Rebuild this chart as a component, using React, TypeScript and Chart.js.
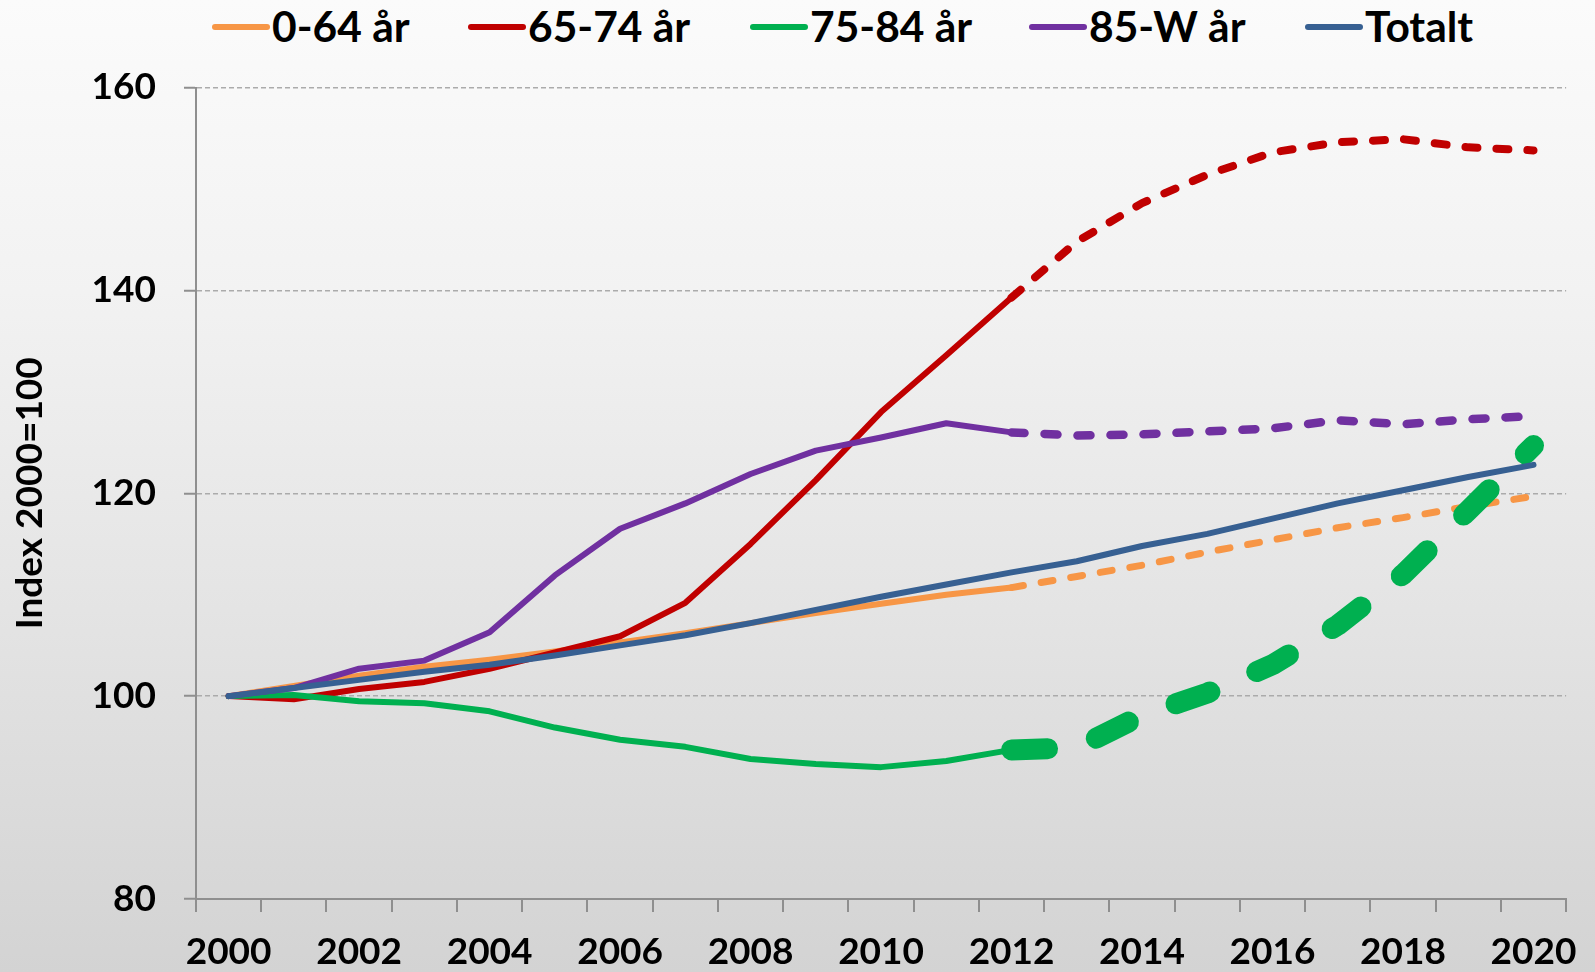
import React, { useEffect, useRef } from "react";
import { Chart, registerables } from "chart.js";

Chart.register(...registerables);

// ---- Data ----
const years = [
  "2000", "2001", "2002", "2003", "2004", "2005", "2006", "2007", "2008", "2009", "2010",
  "2011", "2012", "2013", "2014", "2015", "2016", "2017", "2018", "2019", "2020",
];
const age0to64 = [100, 101.0, 102.0, 102.9, 103.6, 104.4, 105.3, 106.2, 107.2, 108.2, 109.1, 110.0, 110.7, 111.8, 112.9, 114.2, 115.4, 116.6, 117.6, 118.7, 119.7];
const age65to74 = [100, 99.7, 100.7, 101.4, 102.7, 104.3, 105.9, 109.2, 115.0, 121.3, 128.0, 133.6, 139.3, 144.8, 148.6, 151.4, 153.6, 154.6, 154.9, 154.1, 153.8];
const age75to84 = [100, 100.1, 99.5, 99.3, 98.5, 96.9, 95.7, 95.0, 93.8, 93.3, 93.0, 93.6, 94.7, 94.9, 98.1, 100.3, 103.1, 107.0, 112.0, 118.3, 124.7];
const age85plus = [100, 100.8, 102.7, 103.5, 106.3, 111.9, 116.5, 119.0, 121.9, 124.2, 125.5, 126.9, 126.0, 125.7, 125.8, 126.1, 126.4, 127.2, 126.8, 127.3, 127.6];
const totalt = [100, 100.8, 101.6, 102.4, 103.1, 104.0, 105.0, 106.0, 107.2, 108.5, 109.8, 111.0, 112.2, 113.3, 114.8, 116.0, 117.5, 119.0, 120.3, 121.6, 122.8];
const seriesNames = ["0-64 år", "65-74 år", "75-84 år", "85-W år", "Totalt"];
const yTicks = { min: 80, max: 160, step: 20 };
const projectionFromIndex = 12; // 2012 onward is projection (dashed)

const colors = ["#F79646", "#C00000", "#00B050", "#7030A0", "#376092"];
const FONT = 'Lato, "Open Sans", "DejaVu Sans", sans-serif';
const axisGray = "#8f8f8f";
const gridGray = "#ababab";

const legendLeft = [212, 468, 750, 1029, 1305];

function makeDataset(label: string, data: number[], color: string, order: number, dashW: number | null, dash: number[] | null) {
  return {
    label,
    data,
    borderColor: color,
    backgroundColor: color,
    borderWidth: 6,
    borderCapStyle: "round" as const,
    borderJoinStyle: "round" as const,
    pointRadius: 0,
    pointHoverRadius: 0,
    fill: false,
    tension: 0,
    order,
    segment: {
      borderDash: (ctx: any) => (dash && ctx.p0DataIndex >= projectionFromIndex ? dash : undefined),
      borderWidth: (ctx: any) => (dashW && ctx.p0DataIndex >= projectionFromIndex ? dashW : undefined),
    },
  };
}

export default function App() {
  const canvasRef = useRef<HTMLCanvasElement>(null);

  useEffect(() => {
    document.body.style.margin = "0";
    const canvas = canvasRef.current;
    if (!canvas) return;
    const chart = new Chart(canvas, {
      type: "line",
      data: {
        labels: years,
        datasets: [
          makeDataset(seriesNames[0], age0to64, colors[0], 5, 7, [12, 18]),
          makeDataset(seriesNames[1], age65to74, colors[1], 4, 8, [12, 19]),
          makeDataset(seriesNames[2], age75to84, colors[2], 3, 21, [36, 51]),
          makeDataset(seriesNames[3], age85plus, colors[3], 2, 8.5, [13, 20]),
          makeDataset(seriesNames[4], totalt, colors[4], 1, null, null),
        ],
      },
      options: {
        responsive: false,
        animation: false,
        layout: { padding: { top: 87.5, right: 24, left: 0, bottom: 0 } },
        plugins: {
          legend: { display: false },
          tooltip: { enabled: false },
        },
        scales: {
          x: {
            type: "category",
            offset: true,
            grid: {
              offset: true,
              drawOnChartArea: false,
              color: axisGray,
              tickColor: axisGray,
              tickLength: 13,
              tickWidth: 2,
              lineWidth: 2,
            },
            border: { color: axisGray, width: 2 },
            ticks: {
              autoSkip: false,
              maxRotation: 0,
              color: "#000",
              padding: 18,
              font: { family: FONT, size: 37, weight: "bold" },
              callback: (_v: any, i: number) => (i % 2 === 0 ? years[i] : ""),
            },
            afterFit: (scale: any) => {
              scale.height = 73;
            },
          },
          y: {
            min: yTicks.min,
            max: yTicks.max,
            grid: {
              color: gridGray,
              lineWidth: 1.5,
              tickColor: axisGray,
              tickWidth: 2,
              tickLength: 12,
              tickBorderDash: [],
            },
            border: { color: axisGray, width: 2, dash: [5, 3] },
            ticks: {
              stepSize: yTicks.step,
              color: "#000",
              padding: 28,
              font: { family: FONT, size: 37, weight: "bold" },
            },
            title: {
              display: true,
              text: "Index 2000=100",
              color: "#000",
              padding: { top: 8, bottom: 0 },
              font: { family: FONT, size: 37, weight: "bold" },
            },
            afterFit: (scale: any) => {
              scale.width = 196;
            },
          },
        },
      },
    });
    return () => chart.destroy();
  }, []);

  return (
    <div
      style={{
        position: "relative",
        width: 1595,
        height: 972,
        overflow: "hidden",
        background: "linear-gradient(to bottom, #fbfbfb 0%, #f2f2f2 30%, #e3e3e3 65%, #d3d3d3 100%)",
        fontFamily: FONT,
      }}
    >
      {seriesNames.map((name, i) => (
        <div
          key={name}
          style={{
            position: "absolute",
            left: legendLeft[i],
            top: 5,
            height: 43,
            display: "flex",
            alignItems: "center",
            whiteSpace: "nowrap",
          }}
        >
          <span
            style={{
              display: "inline-block",
              width: 58,
              height: 6,
              borderRadius: 3,
              background: colors[i],
            }}
          />
          <span
            style={{
              marginLeft: 2,
              fontSize: 42.5,
              fontWeight: 700,
              lineHeight: 1,
              color: "#000",
            }}
          >
            {name}
          </span>
        </div>
      ))}
      <canvas
        ref={canvasRef}
        width={1595}
        height={972}
        style={{ position: "absolute", left: 0, top: 0, width: 1595, height: 972 }}
      />
    </div>
  );
}
